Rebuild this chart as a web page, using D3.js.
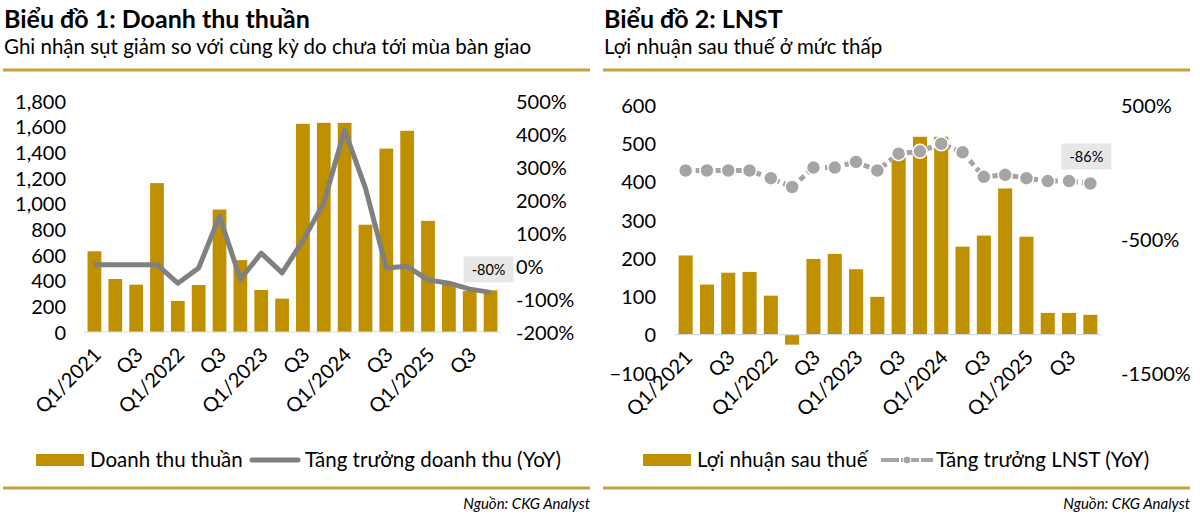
<!DOCTYPE html>
<html>
<head>
<meta charset="utf-8">
<script src="https://cdn.jsdelivr.net/npm/d3@7"></script>
<style>
  body { margin: 0; background: #fff; }
  svg text { font-family: Lato, "Open Sans", sans-serif; fill: #000; }
</style>
</head>
<body>
<div id="chart"></div>
<script>
// quarters Q1/2021 .. Q4/2025
var quarters = ['Q1/2021','Q2/2021','Q3/2021','Q4/2021','Q1/2022','Q2/2022','Q3/2022','Q4/2022',
	'Q1/2023','Q2/2023','Q3/2023','Q4/2023','Q1/2024','Q2/2024','Q3/2024','Q4/2024',
	'Q1/2025','Q2/2025','Q3/2025','Q4/2025'];
var xTickLabels = ['Q1/2021','','Q3','','Q1/2022','','Q3','','Q1/2023','','Q3','',
	'Q1/2024','','Q3','','Q1/2025','','Q3',''];

// chart 1 - doanh thu thuan (ty dong) + tang truong YoY (%)
var revenue = [629, 413, 369, 1160, 242, 366, 954, 560, 327, 260, 1622, 1630, 1630, 836, 1429, 1568, 866, 385, 320, 325];
var revenueGrowth = [4, 4, 4, 4, -52, -6, 151, -40, 39, -21, 77, 191, 412, 236, -6, -1, -42, -52, -70, -80];
var revenueTicks = [0, 200, 400, 600, 800, 1000, 1200, 1400, 1600, 1800];
var revenueGrowthTicks = [-200, -100, 0, 100, 200, 300, 400, 500];

// chart 2 - LNST + tang truong YoY (%)
var profit = [207, 131, 162, 164, 102, -26, 198, 211, 171, 99, 465, 517, 517, 230, 259, 382, 256, 57, 57, 52];
var profitGrowth = [11, 11, 11, 11, -46, -112, 33, 33, 75, 11, 137, 154, 211, 147, -36, -21, -46, -68, -68, -86];
var profitTicks = [-100, 0, 100, 200, 300, 400, 500, 600];
var profitGrowthTicks = [-1500, -500, 500];

var gold = '#BF9000', ruleColor = '#C3A43C';

var svg = d3.select('#chart').append('svg')
	.attr('width', 1200)
	.attr('height', 516);

//------------------------------------------------------------------------------
function drawPanel(o) {
	var g = svg.append('g').attr('transform', 'translate(' + o.x0 + ',0)');

	g.append('text')
		.attr('x', 1).attr('y', 28)
		.style('font-size', '25px').style('font-weight', 'bold')
		.text(o.title);
	g.append('text')
		.attr('x', 1).attr('y', 54)
		.style('font-size', '20.5px')
		.text(o.subtitle);

	g.append('line').attr('x1', 0).attr('x2', 587).attr('y1', 70).attr('y2', 70)
		.attr('stroke', ruleColor).attr('stroke-width', 3);
	g.append('line').attr('x1', 0).attr('x2', 587).attr('y1', 488).attr('y2', 488)
		.attr('stroke', ruleColor).attr('stroke-width', 3);

	g.append('text')
		.attr('x', 587).attr('y', 509)
		.attr('text-anchor', 'end')
		.style('font-size', '15px').style('font-style', 'italic')
		.text('Nguồn: CKG Analyst');

	var x = d3.scaleBand()
		.domain(quarters)
		.range(o.xRange)
		.paddingInner(0.34)
		.paddingOuter(0.17);
	var yL = d3.scaleLinear().domain(o.leftDomain).range(o.yRange);
	var yR = d3.scaleLinear().domain(o.rightDomain).range(o.yRange);

	// left axis
	var axL = g.append('g')
		.attr('transform', 'translate(' + (o.xRange[0] - o.leftAxisGap) + ',0)')
		.call(d3.axisLeft(yL).tickValues(o.leftTicks).tickSize(0).tickPadding(0)
			.tickFormat(d3.format(',')));
	axL.select('.domain').remove();
	axL.selectAll('text').style('font-size', '20px').attr('dy', '0.36em')
		.style('font-family', 'Lato, sans-serif');

	// right axis
	var axR = g.append('g')
		.attr('transform', 'translate(' + o.rightAxisX + ',0)')
		.call(d3.axisRight(yR).tickValues(o.rightTicks).tickSize(0).tickPadding(0)
			.tickFormat(function(d) { return d + '%'; }));
	axR.select('.domain').remove();
	axR.selectAll('text').style('font-size', '20px').attr('dy', '0.36em')
		.style('font-family', 'Lato, sans-serif');

	// bars
	g.selectAll('.bar')
		.data(o.bars)
		.enter()
		.append('rect')
		.attr('class', 'bar')
		.attr('x', function(d, i) { return x(quarters[i]); })
		.attr('width', x.bandwidth())
		.attr('y', function(d) { return yL(Math.max(0, d)); })
		.attr('height', function(d) { return Math.abs(yL(d) - yL(0)); })
		.attr('fill', gold);

	// category axis line at 0
	g.append('line')
		.attr('x1', o.xRange[0]).attr('x2', o.xRange[1])
		.attr('y1', yL(0)).attr('y2', yL(0))
		.attr('stroke', '#D5D9E3').attr('stroke-width', 1.2);

	// x labels
	g.selectAll('.xlab')
		.data(xTickLabels)
		.enter()
		.append('text')
		.attr('class', 'xlab')
		.attr('text-anchor', 'end')
		.style('font-size', '20px')
		.attr('transform', function(d, i) {
			var cx = x(quarters[i]) + x.bandwidth() / 2 + 8;
			return 'translate(' + cx + ',' + (yL(0) + 24) + ') rotate(-45)';
		})
		.text(function(d) { return d; });

	var line = d3.line()
		.x(function(d, i) { return x(quarters[i]) + x.bandwidth() / 2; })
		.y(function(d) { return yR(d); });

	var last = o.growth.length - 1;
	var lastX = x(quarters[last]) + x.bandwidth() / 2;

	if (o.dotted) {
		g.append('path')
			.attr('d', line(o.growth))
			.attr('fill', 'none')
			.attr('stroke', '#A5A5A5')
			.attr('stroke-width', 5)
			.attr('stroke-dasharray', '6,4');
		g.selectAll('.dot')
			.data(o.growth)
			.enter()
			.append('circle')
			.attr('cx', function(d, i) { return x(quarters[i]) + x.bandwidth() / 2; })
			.attr('cy', function(d) { return yR(d); })
			.attr('r', 7)
			.attr('fill', '#A5A5A5')
			.attr('stroke', '#fff')
			.attr('stroke-width', 1.5);
	} else {
		g.append('path')
			.attr('d', line(o.growth))
			.attr('fill', 'none')
			.attr('stroke', '#808080')
			.attr('stroke-width', 5)
			.attr('stroke-linejoin', 'round');
	}

	// data label of last point
	var lb = g.append('g')
		.attr('transform', 'translate(' + (lastX + o.labelDx) + ',' + (yR(o.growth[last]) + o.labelDy) + ')');
	lb.append('rect')
		.attr('x', -25).attr('y', -13).attr('width', 50).attr('height', 26)
		.attr('fill', '#E7E7E7');
	lb.append('text')
		.attr('text-anchor', 'middle').attr('dy', '0.36em')
		.style('font-size', '14.5px')
		.text(o.growth[last] + '%');

	// legend
	var lg = g.append('g').attr('transform', 'translate(0,460)');
	lg.append('rect')
		.attr('x', o.legendX).attr('y', -6).attr('width', 48).attr('height', 12)
		.attr('fill', gold);
	lg.append('text')
		.attr('x', o.legendX + 54).attr('dy', '0.36em')
		.style('font-size', '20.5px')
		.text(o.barName);
	var lx = o.legendX2;
	if (o.dotted) {
		lg.append('line')
			.attr('x1', lx).attr('x2', lx + 52)
			.attr('stroke', '#A5A5A5').attr('stroke-width', 4)
			.attr('stroke-dasharray', '18,2');
		lg.append('circle')
			.attr('cx', lx + 26).attr('r', 4)
			.attr('fill', '#A5A5A5').attr('stroke', '#fff').attr('stroke-width', 1);
	} else {
		lg.append('line')
			.attr('x1', lx + 2).attr('x2', lx + 48)
			.attr('stroke', '#808080').attr('stroke-width', 5)
			.attr('stroke-linecap', 'round');
	}
	lg.append('text')
		.attr('x', lx + 55).attr('dy', '0.36em')
		.style('font-size', '20.5px')
		.text(o.lineName);
}

drawPanel({
	x0: 3,
	title: 'Biểu đồ 1: Doanh thu thuần',
	subtitle: 'Ghi nhận sụt giảm so với cùng kỳ do chưa tới mùa bàn giao',
	xRange: [81, 498],
	yRange: [332, 101],
	leftDomain: [0, 1800],
	rightDomain: [-200, 500],
	leftTicks: revenueTicks,
	rightTicks: revenueGrowthTicks,
	leftAxisGap: 18,
	rightAxisX: 513,
	bars: revenue,
	growth: revenueGrowth,
	dotted: false,
	labelDx: -2,
	labelDy: -23,
	legendX: 33,
	legendX2: 247,
	barName: 'Doanh thu thuần',
	lineName: 'Tăng trưởng doanh thu (YoY)'
});

drawPanel({
	x0: 603,
	title: 'Biểu đồ 2: LNST',
	subtitle: 'Lợi nhuận sau thuế ở mức thấp',
	xRange: [72, 498],
	yRange: [373, 105],
	leftDomain: [-100, 600],
	rightDomain: [-1500, 500],
	leftTicks: profitTicks,
	rightTicks: profitGrowthTicks,
	leftAxisGap: 19,
	rightAxisX: 518,
	bars: profit,
	growth: profitGrowth,
	dotted: true,
	labelDx: -4,
	labelDy: -27,
	legendX: 40,
	legendX2: 278,
	barName: 'Lợi nhuận sau thuế',
	lineName: 'Tăng trưởng LNST (YoY)'
});
</script>
</body>
</html>
